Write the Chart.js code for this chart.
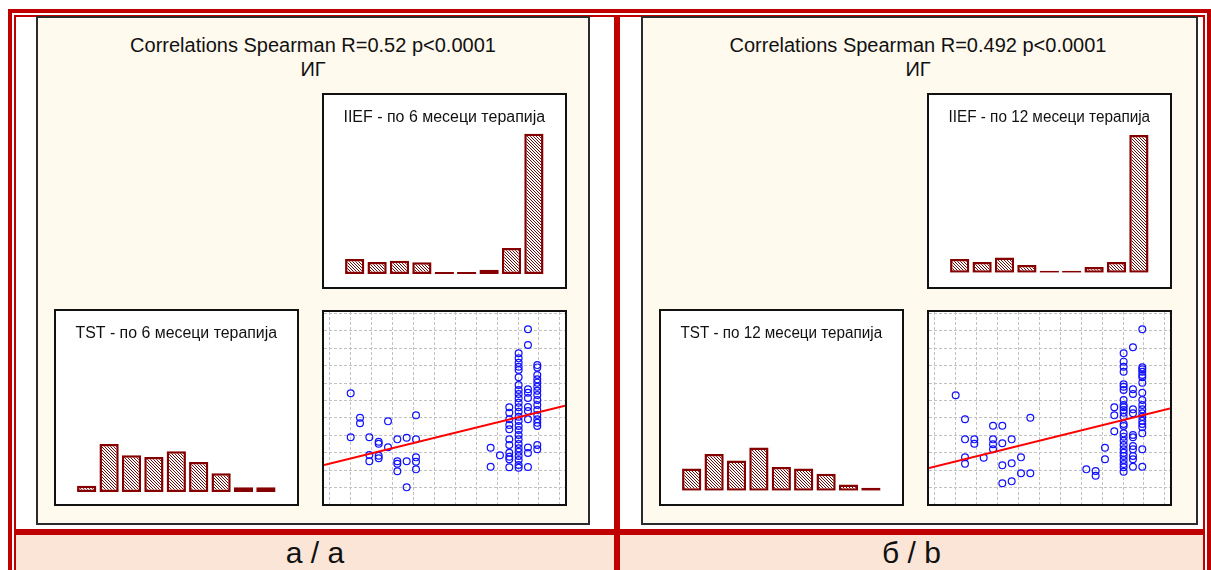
<!DOCTYPE html>
<html><head><meta charset="utf-8">
<script src="https://cdn.jsdelivr.net/npm/chart.js@4.4.1/dist/chart.umd.min.js"></script>
<style>
html,body{margin:0;padding:0;background:#fff;}
body{width:1211px;height:570px;position:relative;overflow:hidden;font-family:"Liberation Sans",Arial,sans-serif;}
.r{position:absolute;background:#C00000;}
.panel{position:absolute;background:#FFF9EE;border:2px solid #2b2b2b;box-sizing:border-box;}
.box{position:absolute;background:#fff;border:2px solid #111;box-sizing:border-box;}
.box canvas{position:absolute;left:0;top:0;}
.ttl{position:absolute;text-align:center;color:#111;font-size:20px;line-height:24px;white-space:nowrap;}
.lbl{position:absolute;top:535px;height:35px;background:#FBE5D6;text-align:center;font-size:30px;line-height:35px;color:#111;}
</style></head>
<body>
<!-- frame -->
<div class="r" style="left:8px;top:9px;width:1203px;height:4px"></div>
<div class="r" style="left:14px;top:15px;width:1191px;height:2px"></div>
<div class="r" style="left:8px;top:9px;width:4px;height:561px"></div>
<div class="r" style="left:14px;top:15px;width:2px;height:555px"></div>
<div class="r" style="left:1203px;top:15px;width:2px;height:555px"></div>
<div class="r" style="left:1207px;top:9px;width:4px;height:561px"></div>
<div class="r" style="left:614px;top:15px;width:6px;height:555px"></div>
<div class="r" style="left:14px;top:529px;width:1191px;height:6px"></div>
<div class="lbl" style="left:16px;width:598px">а / а</div>
<div class="lbl" style="left:620px;width:583px">б / b</div>

<div class="panel" style="left:36px;top:16px;width:554px;height:509px"></div>
<div class="panel" style="left:641px;top:16px;width:557px;height:509px"></div>
<div class="ttl" style="left:36px;top:33px;width:554px" id="ta"></div>
<div class="ttl" style="left:641px;top:33px;width:554px" id="tb"></div>

<div class="box" style="left:322px;top:93px;width:245px;height:196px"><canvas id="aI" width="241" height="192"></canvas></div>
<div class="box" style="left:54px;top:309px;width:245px;height:197px"><canvas id="aT" width="241" height="193"></canvas></div>
<div class="box" style="left:322px;top:310px;width:245px;height:196px"><canvas id="aS" width="241" height="192"></canvas></div>
<div class="box" style="left:927px;top:93px;width:245px;height:196px"><canvas id="bI" width="241" height="192"></canvas></div>
<div class="box" style="left:659px;top:309px;width:245px;height:197px"><canvas id="bT" width="241" height="193"></canvas></div>
<div class="box" style="left:927px;top:310px;width:245px;height:196px"><canvas id="bS" width="241" height="192"></canvas></div>

<script>
// ---- texts ----
const titleA = ["Correlations Spearman R=0.52 p<0.0001", "ИГ"];
const titleB = ["Correlations Spearman R=0.492 p<0.0001", "ИГ"];
const histTitlesA = ["IIEF - по 6 месеци терапија", "TST - по 6 месеци терапија"];
const histTitlesB = ["IIEF - по 12 месеци терапија", "TST - по 12 месеци терапија"];

// ---- histogram data (% of patients per bin) ----
const binLabels = ["1","2","3","4","5","6","7","8","9"];
const aIIEF = [6.7, 5.4, 6.0, 5.3, 0, 0, 1.9, 11.7, 63.0];
const aTST  = [2.8, 21.6, 16.5, 15.7, 18.3, 13.5, 8.4, 2.1, 2.1];
const bIIEF = [6.8, 5.3, 7.5, 3.8, 0, 0, 2.8, 5.3, 67.8];
const bTST  = [11.0, 18.1, 14.9, 21.3, 11.7, 11.0, 8.4, 3.0, 1.5];

// ---- scatter data: IIEF score columns and TST values at each ----
const aIIEFScores = [5, 6, 7, 8, 9, 10, 11, 12, 20, 21, 22, 23, 24, 25];
const aTSTValues = [
  [16.03, 9.72],
  [12.53, 11.73],
  [9.72, 7.18, 6.28],
  [9.09, 8.80, 7.08, 6.71],
  [12.01, 8.29],
  [9.43, 6.28, 5.93, 4.85],
  [9.66, 6.28, 2.55],
  [12.87, 9.43, 6.85, 6.22, 5.13],
  [8.23, 5.50],
  [7.14],
  [14.02, 13.25, 12.30, 11.48, 10.87, 9.43, 8.62, 7.51, 6.94, 6.57, 5.42],
  [21.76, 21.04, 20.41, 19.84, 19.37, 18.32, 17.22, 16.50, 15.93, 15.31, 14.68, 14.02, 13.39, 12.67, 12.06, 11.34, 10.77, 10.05, 9.43, 8.76, 8.14, 7.65, 7.04, 6.47, 5.75, 5.36],
  [25.20, 22.95, 16.60, 16.11, 15.35, 14.06, 13.49, 12.30, 8.26, 7.47, 5.46],
  [20.07, 19.74, 18.65, 18.03, 17.55, 16.97, 16.40, 15.78, 15.07, 14.35, 13.63, 12.92, 12.30, 11.81, 11.34, 8.62, 8.00]
];
const bIIEFScores = [5, 6, 7, 8, 9, 10, 11, 12, 13, 19, 20, 21, 22, 23, 24, 25];
const bTSTValues = [
  [15.74],
  [12.30, 9.43, 6.85, 5.93],
  [9.43, 8.80],
  [6.79],
  [11.38, 9.43, 8.72, 8.00],
  [11.38, 8.86, 5.71, 3.13],
  [9.43, 5.99, 3.41],
  [6.85, 4.56],
  [12.53, 4.56],
  [5.13],
  [4.89, 4.21],
  [8.23, 6.57],
  [14.02, 12.87, 10.58],
  [21.76, 20.56, 19.84, 19.12, 17.32, 16.97, 16.50, 15.07, 14.35, 14.02, 13.63, 13.25, 12.67, 11.63, 11.34, 10.29, 9.81, 9.23, 8.62, 8.00, 7.51, 7.04, 6.47, 5.89, 5.42, 4.79],
  [22.62, 16.60, 15.93, 13.73, 13.16, 10.05, 9.72, 8.47, 8.00, 7.04, 6.57, 5.50],
  [25.20, 19.75, 19.47, 19.12, 18.65, 18.32, 17.55, 16.11, 15.07, 14.35, 13.73, 13.16, 12.67, 12.10, 11.63, 11.15, 10.29, 8.00, 5.50]
];
// regression lines TST = intercept + slope * IIEF
const aFit = [5.03, 0.329];
const bFit = [4.60, 0.331];

// ---- styling ----
const FONT = '"Liberation Sans", Arial, sans-serif';
const X_RANGE = [2.14, 27.97];
const Y_RANGE = [0.16, 27.68];
const gridXPos = [2.78, 5.02, 7.26, 9.50, 11.74, 13.98, 16.22, 18.46, 20.70, 22.94, 25.18, 27.42];
const gridYPos = [2.5, 5, 7.5, 10, 12.5, 15, 17.5, 20, 22.5, 25, 27.5];

document.getElementById('ta').innerHTML = titleA.join('<br>');
document.getElementById('tb').innerHTML = titleB.join('<br>');

function hatch() {
  const c = document.createElement('canvas'); c.width = 3; c.height = 3;
  const g = c.getContext('2d');
  g.fillStyle = '#ffffff'; g.fillRect(0, 0, 3, 3);
  g.fillStyle = '#6e0a0a';
  for (let i = 0; i < 3; i++) g.fillRect(i, i, 1, 1);
  return g.createPattern(c, 'repeat');
}

function hist(id, title, values, yMax, padBottom) {
  new Chart(document.getElementById(id), {
    type: 'bar',
    data: { labels: binLabels, datasets: [{
      data: values, backgroundColor: hatch(), borderColor: '#850000', borderWidth: 2.5,
      borderSkipped: false, minBarLength: 2, barPercentage: 0.86, categoryPercentage: 1
    }]},
    options: {
      responsive: false, animation: false, devicePixelRatio: 1,
      layout: { autoPadding: false, padding: { left: 19.5, right: 19.9, top: 0, bottom: padBottom } },
      plugins: {
        legend: { display: false }, tooltip: { enabled: false },
        title: { display: true, text: title, color: '#111',
          font: { family: FONT, size: 16, weight: 'normal' }, padding: { top: 13, bottom: 3 } }
      },
      scales: { x: { display: false }, y: { display: false, min: 0, max: yMax } }
    }
  });
}

function scatter(id, scores, values, fit) {
  const pts = [];
  scores.forEach((x, i) => values[i].forEach(y => pts.push({ x: x, y: y })));
  const line = X_RANGE.map(x => ({ x: x, y: fit[0] + fit[1] * x }));
  const axis = (range, grid) => ({
    type: 'linear', min: range[0], max: range[1],
    ticks: { display: false },
    grid: { color: '#c2c2c2', lineWidth: 1, drawTicks: false, tickLength: 0 },
    border: { display: false, dash: [3, 2] },
    afterBuildTicks: s => { s.ticks = grid.map(v => ({ value: v })); }
  });
  new Chart(document.getElementById(id), {
    type: 'scatter',
    data: { datasets: [
      { type: 'line', data: line, borderColor: '#ff0000', borderWidth: 2, pointRadius: 0, fill: false, order: 0 },
      { data: pts, pointStyle: 'circle', pointRadius: 3.4, borderColor: '#1010ff',
        backgroundColor: 'rgba(255,255,255,0)', borderWidth: 1.2, order: 1 }
    ]},
    options: {
      responsive: false, animation: false, devicePixelRatio: 1,
      layout: { autoPadding: false, padding: 0 },
      plugins: { legend: { display: false }, tooltip: { enabled: false } },
      scales: { x: axis(X_RANGE, gridXPos), y: axis(Y_RANGE, gridYPos) }
    }
  });
}

hist('aI', histTitlesA[0], aIIEF, 64.6, 13);
hist('aT', histTitlesA[1], aTST, 65.5, 12);
hist('bI', histTitlesB[0], bIIEF, 70.2, 14.3);
hist('bT', histTitlesB[1], bTST, 71.2, 13.3);
scatter('aS', aIIEFScores, aTSTValues, aFit);
scatter('bS', bIIEFScores, bTSTValues, bFit);
</script>
</body></html>
